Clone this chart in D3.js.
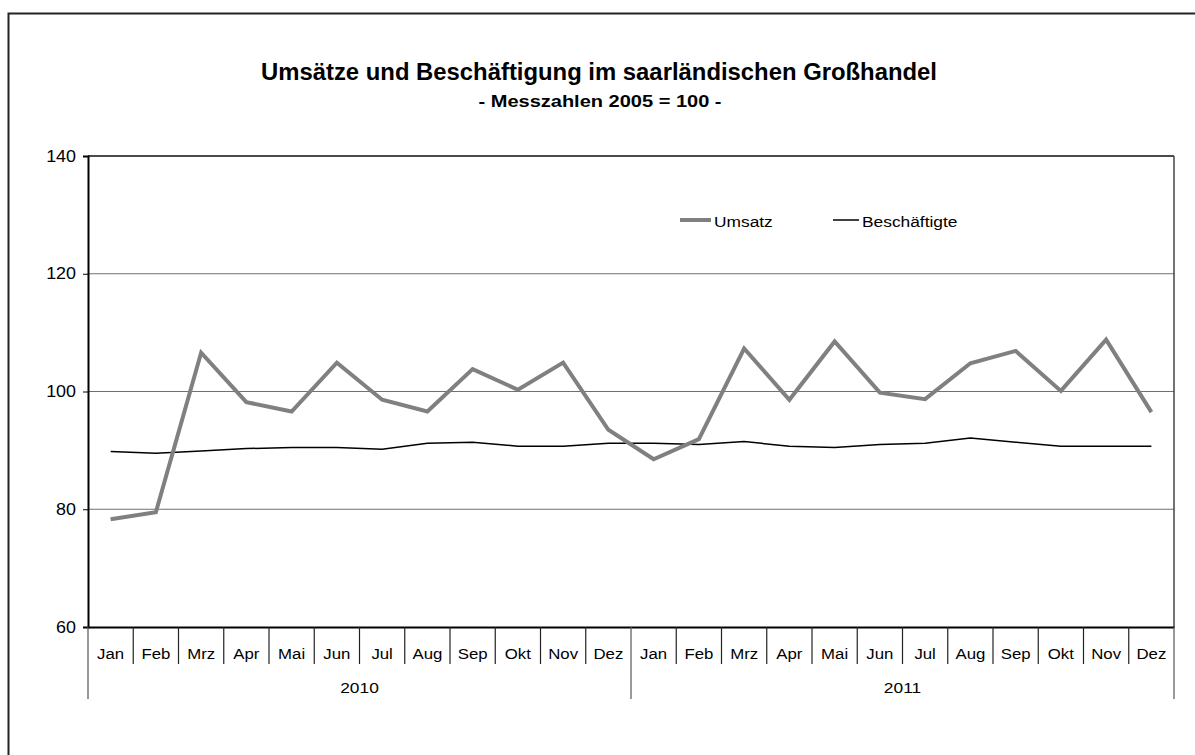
<!DOCTYPE html>
<html>
<head>
<meta charset="utf-8">
<script src="https://cdn.jsdelivr.net/npm/d3@7"></script>
<style>
  body { margin: 0; background: #fff; }
  svg { display: block; font-family: "Liberation Sans", Arial, sans-serif; }
  .axis path, .axis line { stroke: #000; }
  .axis text { fill: #000; font-family: "Liberation Sans", Arial, sans-serif; }
</style>
</head>
<body>
<div class="chart"></div>
<script>
// Daten
const years = ['2010', '2011'];
const months = ['Jan', 'Feb', 'Mrz', 'Apr', 'Mai', 'Jun', 'Jul', 'Aug', 'Sep', 'Okt', 'Nov', 'Dez'];
const yTicks = [60, 80, 100, 120, 140];
const umsatz = [78.3, 79.5, 106.6, 98.2, 96.6, 104.9, 98.6, 96.6, 103.8, 100.3, 104.9, 93.5,
                88.5, 91.9, 107.3, 98.6, 108.5, 99.8, 98.7, 104.8, 106.9, 100.1, 108.8, 96.5];
const beschaeftigte = [89.8, 89.5, 89.9, 90.3, 90.5, 90.5, 90.2, 91.2, 91.4, 90.7, 90.7, 91.2,
                       91.2, 91.0, 91.5, 90.7, 90.5, 91.0, 91.2, 92.1, 91.4, 90.7, 90.7, 90.7];

const width = 1195, height = 755;
const plot = {left: 88, top: 156, right: 1174, bottom: 627};
const sx = 1.12; // Schrift im Original etwas breiter gezogen

// Kategorien: Jahr + Monat
const cats = [];
years.forEach(y => months.forEach(m => cats.push({year: y, month: m, key: y + '-' + m})));

const series = [
  {name: 'Umsatz', values: umsatz, color: '#808080', width: 4},
  {name: 'Beschäftigte', values: beschaeftigte, color: '#000', width: 1.5}
];

// Text horizontal strecken, Position bleibt
function stretch(sel, s) {
  sel.each(function() {
    const t = d3.select(this);
    const x = +t.attr('x') || 0, y = +t.attr('y') || 0;
    t.attr('x', 0).attr('y', 0).attr('transform', `translate(${x},${y}) scale(${s},1)`);
  });
}

const svg = d3.select('.chart').append('svg')
  .attr('width', width).attr('height', height);

svg.append('rect').attr('width', width).attr('height', height).attr('fill', '#fff');

// äußerer Rahmen
svg.append('rect')
  .attr('x', 8.5).attr('y', 13.5)
  .attr('width', width + 20).attr('height', height + 20)
  .attr('fill', 'none').attr('stroke', '#222').attr('stroke-width', 2);

// Titel
svg.append('text')
  .attr('x', 599).attr('y', 80)
  .attr('text-anchor', 'middle')
  .attr('textLength', 676).attr('lengthAdjust', 'spacingAndGlyphs')
  .style('font-size', '23px').style('font-weight', 'bold')
  .text('Umsätze und Beschäftigung im saarländischen Großhandel');
svg.append('text')
  .attr('x', 600).attr('y', 107)
  .attr('text-anchor', 'middle')
  .attr('textLength', 243).attr('lengthAdjust', 'spacingAndGlyphs')
  .style('font-size', '17px').style('font-weight', 'bold')
  .text('- Messzahlen 2005 = 100 -');

// Skalen
const xScale = d3.scaleBand().domain(cats.map(d => d.key))
  .range([plot.left, plot.right]).paddingInner(0).paddingOuter(0);
const yScale = d3.scaleLinear().domain([60, 140]).range([plot.bottom, plot.top]);

// Gitternetz
svg.append('g').attr('class', 'grid')
  .selectAll('line').data(yTicks.filter(t => t > 60 && t < 140))
  .join('line')
  .attr('x1', plot.left).attr('x2', plot.right)
  .attr('y1', d => yScale(d)).attr('y2', d => yScale(d))
  .attr('stroke', '#707070').attr('stroke-width', 1.2);

// Plotrahmen oben / rechts
svg.append('line')
  .attr('x1', plot.left).attr('x2', plot.right)
  .attr('y1', yScale(140)).attr('y2', yScale(140))
  .attr('stroke', '#111').attr('stroke-width', 1.5);
svg.append('line')
  .attr('x1', plot.right).attr('x2', plot.right)
  .attr('y1', yScale(140)).attr('y2', plot.bottom)
  .attr('stroke', '#444').attr('stroke-width', 1.5);

// Y-Achse
const yAxis = d3.axisLeft(yScale).tickValues(yTicks).tickSize(5).tickPadding(7);
const yAxisDraw = svg.append('g').attr('class', 'y axis')
  .attr('transform', `translate(${plot.left},0)`)
  .call(yAxis);
yAxisDraw.select('.domain').attr('stroke-width', 2);
yAxisDraw.selectAll('text').style('font-size', '16px').call(stretch, sx);

// X-Achse: Monate
const xAxis = d3.axisBottom(xScale).tickSize(0).tickPadding(21)
  .tickFormat(k => k.split('-')[1]);
const xAxisDraw = svg.append('g').attr('class', 'x axis')
  .attr('transform', `translate(0,${plot.bottom})`)
  .call(xAxis);
xAxisDraw.select('.domain').attr('stroke-width', 2);
xAxisDraw.selectAll('text').style('font-size', '15px').call(stretch, sx);

// Trennstriche zwischen Kategorien
const bounds = d3.range(cats.length + 1);
svg.append('g').attr('class', 'dividers')
  .selectAll('line').data(bounds)
  .join('line')
  .attr('x1', i => plot.left + i * xScale.step())
  .attr('x2', i => plot.left + i * xScale.step())
  .attr('y1', plot.bottom)
  .attr('y2', i => (i % months.length === 0 ? 699 : 664))
  .attr('stroke', i => (i % months.length === 0 ? '#555' : '#222'))
  .attr('stroke-width', 1.2);

// Jahresbeschriftung
svg.append('g').attr('class', 'years')
  .selectAll('text').data(years)
  .join('text')
  .attr('x', (d, i) => plot.left + (i * months.length + months.length / 2) * xScale.step())
  .attr('y', 693)
  .attr('text-anchor', 'middle')
  .style('font-size', '15.5px')
  .text(d => d)
  .call(stretch, sx);

// Linien
const line = d3.line()
  .x((d, i) => xScale(cats[i].key) + xScale.bandwidth() / 2)
  .y(d => yScale(d));

svg.append('g').attr('class', 'lines')
  .selectAll('path').data(series.slice().reverse())
  .join('path')
  .attr('d', d => line(d.values))
  .attr('fill', 'none')
  .attr('stroke', d => d.color)
  .attr('stroke-width', d => d.width)
  .attr('stroke-linejoin', 'miter');

// Legende
const legendPos = [{x: 680, len: 31}, {x: 833, len: 26}];
const legend = svg.append('g').attr('class', 'legend')
  .selectAll('g').data(series)
  .join('g')
  .attr('transform', (d, i) => `translate(${legendPos[i].x},220)`);
legend.append('line')
  .attr('x1', 0).attr('x2', (d, i) => legendPos[i].len)
  .attr('y1', 0).attr('y2', 0)
  .attr('stroke', d => d.color).attr('stroke-width', d => d.width);
legend.append('text')
  .attr('x', (d, i) => legendPos[i].len + 3).attr('y', 6.5)
  .style('font-size', '15.5px')
  .text(d => d.name)
  .call(stretch, sx);
</script>
</body>
</html>
